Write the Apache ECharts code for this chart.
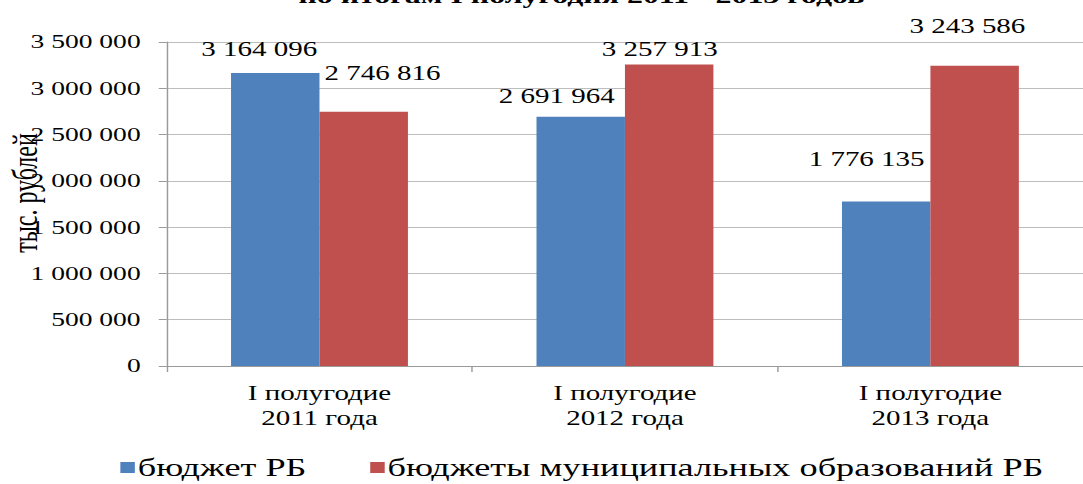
<!DOCTYPE html>
<html>
<head>
<meta charset="utf-8">
<script src="https://cdn.jsdelivr.net/npm/echarts@6/dist/echarts.min.js"></script>
<style>
html,body{margin:0;padding:0;background:#fff;overflow:hidden;width:1083px;height:484px;}
#wrap{width:1083px;height:484px;overflow:hidden;position:relative;}
#chart{width:747px;height:484px;transform:scaleX(1.45);transform-origin:0 0;}
</style>
</head>
<body>
<div id="wrap"><div id="chart"></div></div>
<script>
// ---- data ----
const titleText = 'по итогам I полугодия 2011 - 2013 годов';
const yAxisName = 'тыс. рублей';
const categories = ['I полугодие\n2011 года', 'I полугодие\n2012 года', 'I полугодие\n2013 года'];
const seriesNames = ['бюджет РБ', 'бюджеты муниципальных образований РБ'];
const budgetRB = [3164096, 2691964, 1776135];
const budgetMunicipal = [2746816, 3257913, 3243586];
const yMin = 0, yMax = 3500000, yStep = 500000;

// ---- layout (label nudges, in chart px) ----
const offsRB = [[-11, -14], [-16.5, -11], [-13.5, -32.6]];
const offsMun = [[13, -29], [-6.5, -5.4], [-5, -29.7]];

const fmt = v => String(v).replace(/\B(?=(\d{3})+(?!\d))/g, ' ');
const FONT = 'Liberation Serif';

function withLabels(vals, offs) {
  return vals.map((v, i) => ({
    value: v,
    label: { offset: offs[i] }
  }));
}

const chart = echarts.init(document.getElementById('chart'), null, { renderer: 'svg' });
chart.setOption({
  animation: false,
  backgroundColor: '#fff',
  title: {
    text: titleText,
    left: 396, top: -20, textAlign: 'center',
    textStyle: { fontFamily: FONT, fontWeight: 'bold', fontSize: 22, color: '#000' }
  },
  graphic: [{
    type: 'text',
    x: 17, y: 193, rotation: Math.PI / 2,
    style: {
      text: yAxisName, fontFamily: FONT, fontSize: 24, fill: '#000',
      textAlign: 'center', textVerticalAlign: 'middle'
    }
  }],
  legend: {
    left: 78, top: 450,
    itemWidth: 10, itemHeight: 11, itemGap: 44,
    icon: 'rect',
    textStyle: { fontFamily: FONT, fontSize: 25, color: '#000', padding: [0, 0, 0, -3] },
    data: seriesNames
  },
  grid: { left: 115, top: 42, width: 650, height: 324, containLabel: false },
  xAxis: {
    type: 'category',
    data: categories,
    axisLine: { lineStyle: { color: '#9a9a9a', width: 1 } },
    axisTick: { show: true, length: 6, lineStyle: { color: '#9a9a9a' } },
    axisLabel: { fontFamily: FONT, fontSize: 20, color: '#000', margin: 15, lineHeight: 25 }
  },
  yAxis: {
    type: 'value',
    min: yMin, max: yMax, interval: yStep,
    axisLine: { show: true, lineStyle: { color: '#9a9a9a', width: 1 } },
    axisTick: { show: true, length: 5.5, lineStyle: { color: '#9a9a9a' } },
    splitLine: { show: true, lineStyle: { color: '#bdbdbd', width: 1 } },
    axisLabel: { fontFamily: FONT, fontSize: 19, color: '#000', margin: 18, formatter: fmt }
  },
  series: [
    {
      name: seriesNames[0], type: 'bar', barWidth: 61, barGap: '0%',
      itemStyle: { color: '#4F81BD' },
      label: { show: true, position: 'top', distance: 0, fontFamily: FONT, fontSize: 20, color: '#000',
        formatter: p => fmt(p.value) },
      data: withLabels(budgetRB, offsRB)
    },
    {
      name: seriesNames[1], type: 'bar', barWidth: 61, barGap: '0%',
      itemStyle: { color: '#C0504D' },
      label: { show: true, position: 'top', distance: 0, fontFamily: FONT, fontSize: 20, color: '#000',
        formatter: p => fmt(p.value) },
      data: withLabels(budgetMunicipal, offsMun)
    }
  ]
});
</script>
</body>
</html>
